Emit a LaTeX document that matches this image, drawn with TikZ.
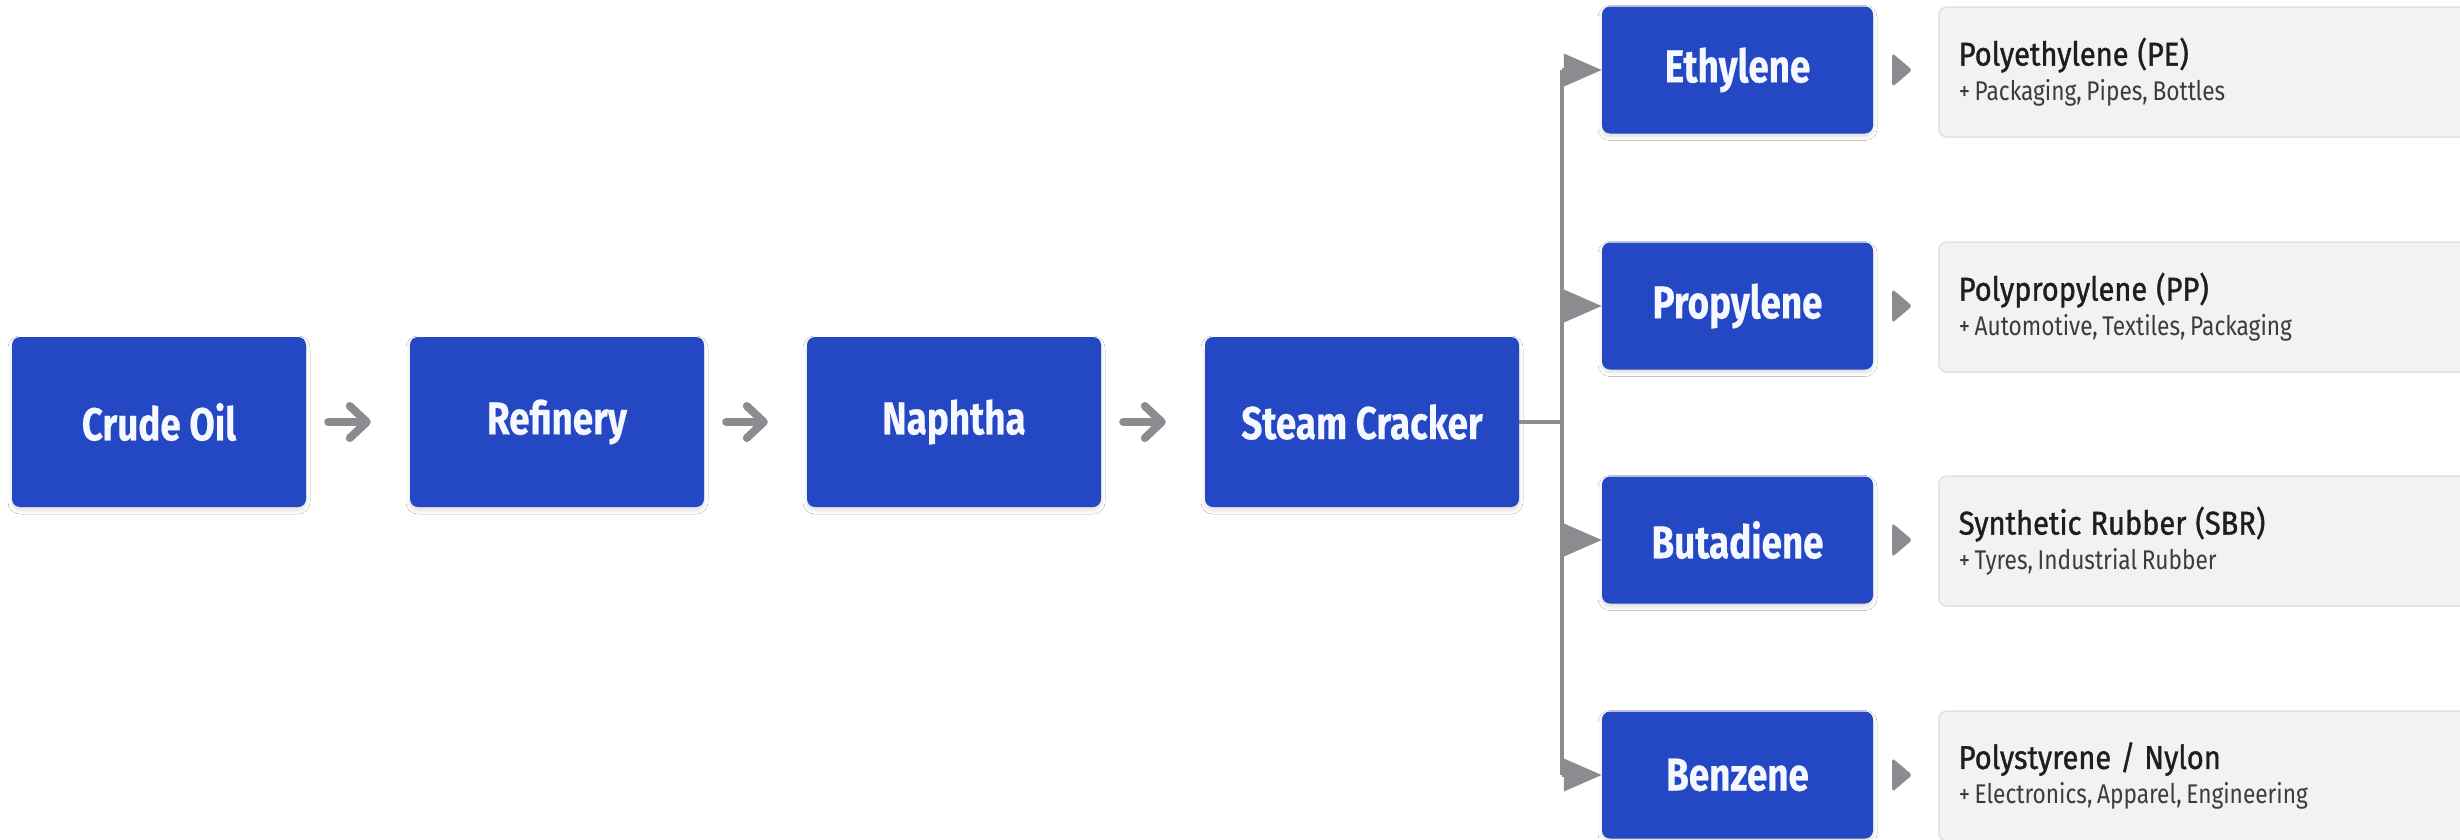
\documentclass[tikz,border=0pt]{standalone}
\usepackage{fontspec}
\setmainfont{Fira Sans}
\newfontfamily\boxfont{Fira Sans}[FakeStretch=0.8,FakeBold=0.4]
\newfontfamily\titlefont{Fira Sans}[FakeStretch=0.88,FakeBold=1.1]
\newfontfamily\subfont{Fira Sans}[FakeStretch=0.84]
\newcommand\subtight{\spaceskip=4.6pt plus 1pt\relax}
\usetikzlibrary{arrows.meta,shadows.blur,calc}
\definecolor{flowblue}{HTML}{2447C4}
\definecolor{boxtext}{HTML}{F5F8FF}
\definecolor{linegray}{HTML}{8C8C90}
\definecolor{panelfill}{HTML}{F2F2F2}
\definecolor{panelline}{HTML}{E2E2E2}
\definecolor{titlecol}{HTML}{1E1E1E}
\definecolor{subcol}{HTML}{3C3C3C}
\begin{document}
\begin{tikzpicture}[x=1pt,y=-1pt,
  softshadow/.style={blur shadow={shadow blur steps=6, shadow xshift=0pt, shadow yshift=-3pt, shadow blur radius=4pt, shadow opacity=14}},
  bluebox/.style={fill=flowblue, draw=none, rounded corners=8pt, text=boxtext,
     font=\boxfont\bfseries\fontsize{46}{50}\selectfont, softshadow},
  mainbox/.style={bluebox, minimum width=294pt, minimum height=170pt},
  sidebox/.style={bluebox, minimum width=271pt, minimum height=127pt},
  graybox/.style={fill=panelfill, draw=panelline, line width=1.5pt, rounded corners=8pt,
     minimum width=580pt, minimum height=130pt, text width=540pt, inner xsep=20pt,
     align=left, font=\subfont\fontsize{27}{35}\selectfont,
     text=subcol, anchor=west},
  flowarrow/.style={draw=linegray, line width=8pt, line cap=round,
     -{Straight Barb[length=17pt,width=32pt,round]}},
  trunkline/.style={draw=linegray, line width=4pt},
  branch/.style={draw=linegray, line width=4pt, -{Triangle[length=38pt,width=32pt]}},
  tiptri/.style={fill=linegray, rounded corners=3pt}
]
\useasboundingbox (0,0) rectangle (2460,839);
\clip (0,0) rectangle (2460,839);
\fill[white] (0,0) rectangle (2460,839);

% main chain
\node[mainbox] (crude) at (159,422) {Crude Oil};
\node[mainbox] (refinery) at (557,422) {Refinery};
\node[mainbox] (naphtha) at (954,422) {Naphtha};
\node[mainbox, minimum width=314pt] (cracker) at (1362,422) {Steam Cracker};

\draw[flowarrow] ([xshift=22pt]crude.east) -- ([xshift=-39pt]refinery.west);
\draw[flowarrow] ([xshift=22pt]refinery.east) -- ([xshift=-39pt]naphtha.west);
\draw[flowarrow] ([xshift=22pt]naphtha.east) -- ([xshift=-39pt]cracker.west);

% products
\node[sidebox] (eth) at (1737.5,70) {Ethylene};
\node[sidebox] (prop) at (1737.5,306) {Propylene};
\node[sidebox] (buta) at (1737.5,540) {Butadiene};
\node[sidebox] (benz) at (1737.5,775) {Benzene};

% trunk
\coordinate (tr) at (1562,422);
\draw[trunkline] (cracker.east) -- (tr);
\draw[trunkline] (tr |- eth.west) -- (tr |- benz.west);
\draw[branch] (tr |- eth.west) -- (eth.west);
\draw[branch] (tr |- prop.west) -- (prop.west);
\draw[branch] (tr |- buta.west) -- (buta.west);
\draw[branch] (tr |- benz.west) -- (benz.west);

% application panels
\node[graybox] (pe) at (1938,72) {{\titlefont\color{titlecol}\fontsize{33}{36}\selectfont Polyethylene (PE)}\\\subtight + Packaging, Pipes, Bottles};
\node[graybox] (pp) at (1938,307) {{\titlefont\color{titlecol}\fontsize{33}{36}\selectfont Polypropylene (PP)}\\\subtight + Automotive, Textiles, Packaging};
\node[graybox] (sbr) at (1938,541) {{\titlefont\color{titlecol}\fontsize{33}{36}\selectfont Synthetic Rubber (SBR)}\\\subtight + Tyres, Industrial Rubber};
\node[graybox] (ps) at (1938,776) {{\titlefont\color{titlecol}\fontsize{33}{36}\selectfont Polystyrene / Nylon}\\\subtight + Electronics, Apparel, Engineering};

% small pointers between product and panel
\foreach \n in {eth,prop,buta,benz}{
  \fill[tiptri] ($(\n.east)+(19,-17)$) -- ++(20,17) -- ++(-20,17) -- cycle;
}
\end{tikzpicture}
\end{document}
